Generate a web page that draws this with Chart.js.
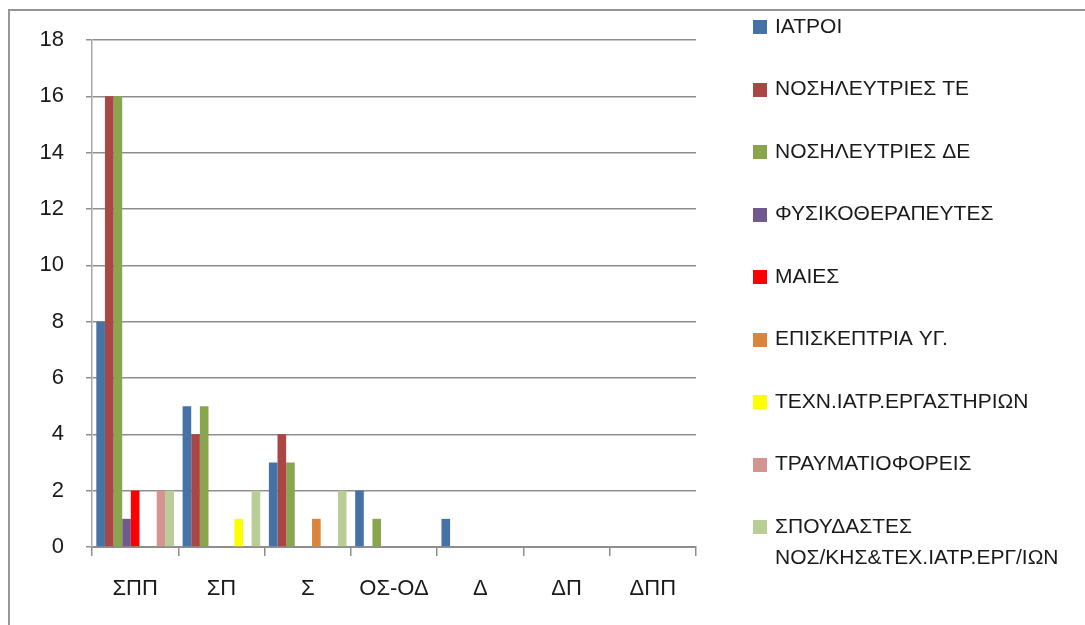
<!DOCTYPE html>
<html>
<head>
<meta charset="utf-8">
<script src="https://cdn.jsdelivr.net/npm/chart.js@4.4.1/dist/chart.umd.min.js"></script>
<style>
  html, body { margin: 0; padding: 0; background: #ffffff; }
  #wrap { position: relative; width: 1085px; height: 625px; overflow: hidden; background: #ffffff; }
  #frame { position: absolute; left: 8px; top: 9px; width: 2000px; height: 2000px;
           border-left: 2px solid #959595; border-top: 2px solid #959595; }
  canvas { position: absolute; left: 0; top: 0; }
</style>
</head>
<body>
<div id="wrap">
  <div id="frame"></div>
  <canvas id="chart" width="1085" height="625"></canvas>
</div>
<script>
// Categories along the x axis
const categories = ['ΣΠΠ', 'ΣΠ', 'Σ', 'ΟΣ-ΟΔ', 'Δ', 'ΔΠ', 'ΔΠΠ'];

// Staff groups (series names)
const seriesNames = [
  'ΙΑΤΡΟΙ',
  'ΝΟΣΗΛΕΥΤΡΙΕΣ ΤΕ',
  'ΝΟΣΗΛΕΥΤΡΙΕΣ ΔΕ',
  'ΦΥΣΙΚΟΘΕΡΑΠΕΥΤΕΣ',
  'ΜΑΙΕΣ',
  'ΕΠΙΣΚΕΠΤΡΙΑ ΥΓ.',
  'ΤΕΧΝ.ΙΑΤΡ.ΕΡΓΑΣΤΗΡΙΩΝ',
  'ΤΡΑΥΜΑΤΙΟΦΟΡΕΙΣ',
  'ΣΠΟΥΔΑΣΤΕΣ ΝΟΣ/ΚΗΣ&ΤΕΧ.ΙΑΤΡ.ΕΡΓ/ΙΩΝ'
];

// Counts per category, one array per group
const iatroi      = [8, 5, 3, 2, 1, 0, 0];
const nosTE       = [16, 4, 4, 0, 0, 0, 0];
const nosDE       = [16, 5, 3, 1, 0, 0, 0];
const fysiko      = [1, 0, 0, 0, 0, 0, 0];
const maies       = [2, 0, 0, 0, 0, 0, 0];
const episkeptria = [0, 0, 1, 0, 0, 0, 0];
const technIatr   = [0, 1, 0, 0, 0, 0, 0];
const travmatio   = [2, 0, 0, 0, 0, 0, 0];
const spoudastes  = [2, 2, 2, 0, 0, 0, 0];

// Value axis ticks
const yTicks = [0, 2, 4, 6, 8, 10, 12, 14, 16, 18];

const seriesValues = [iatroi, nosTE, nosDE, fysiko, maies, episkeptria, technIatr, travmatio, spoudastes];
const seriesColors = ['#4572A7', '#AA4643', '#89A54E', '#71588F', '#FF0000', '#DB843D', '#FFFF00', '#D49492', '#B9CD96'];

const FONT = "'Liberation Sans', Arial, sans-serif";
const GRID = '#8e8e8e';

// Legend drawn down the right-hand side, wrapping long names
const sideLegend = {
  id: 'sideLegend',
  afterDraw(chart, args, o) {
    const ctx = chart.ctx;
    ctx.save();
    ctx.font = o.font;
    ctx.textBaseline = 'middle';
    ctx.textAlign = 'left';
    let y = o.top;
    chart.data.datasets.forEach(ds => {
      const words = ds.label.split(' ');
      const lines = [];
      let cur = '';
      words.forEach(w => {
        const test = cur ? cur + ' ' + w : w;
        if (cur && ctx.measureText(test).width > o.maxWidth) { lines.push(cur); cur = w; }
        else cur = test;
      });
      if (cur) lines.push(cur);
      ctx.fillStyle = ds.backgroundColor;
      ctx.fillRect(o.left, Math.round(y - o.box / 2), o.box, o.box);
      ctx.fillStyle = o.color;
      lines.forEach((ln, i) => ctx.fillText(ln, o.left + o.textGap, y + i * o.lineHeight));
      y += o.step;
    });
    ctx.restore();
  }
};

new Chart(document.getElementById('chart'), {
  type: 'bar',
  data: {
    labels: categories,
    datasets: seriesNames.map((name, i) => ({
      label: name,
      data: seriesValues[i],
      backgroundColor: seriesColors[i],
      borderWidth: 0,
      categoryPercentage: 0.9,
      barPercentage: 1.0
    }))
  },
  options: {
    responsive: false,
    animation: false,
    layout: { padding: { left: 0, top: 40, right: 389, bottom: 0 } },
    plugins: {
      legend: { display: false },
      tooltip: { enabled: false },
      sideLegend: {
        left: 753, top: 27, box: 14, textGap: 22, step: 62.5, lineHeight: 31,
        maxWidth: 300, font: '21px ' + FONT, color: '#1a1a1a'
      }
    },
    scales: {
      x: {
        offset: true,
        grid: { offset: true, drawOnChartArea: false, drawTicks: true, tickLength: 9, color: GRID, lineWidth: 1.5 },
        border: { color: GRID, width: 2 },
        ticks: { font: { family: FONT, size: 22 }, color: '#1a1a1a', padding: 20, maxRotation: 0 },
        afterFit(scale) { scale.height = 78; }
      },
      y: {
        min: 0,
        max: 18,
        afterBuildTicks(scale) { scale.ticks = yTicks.map(v => ({ value: v })); },
        grid: { color: GRID, lineWidth: 1.5, tickLength: 6 },
        border: { color: '#a8a8a8', width: 1.5 },
        ticks: { font: { family: FONT, size: 22 }, color: '#1a1a1a', padding: 22 },
        afterFit(scale) { scale.width = 92; }
      }
    }
  },
  plugins: [sideLegend]
});
</script>
</body>
</html>
